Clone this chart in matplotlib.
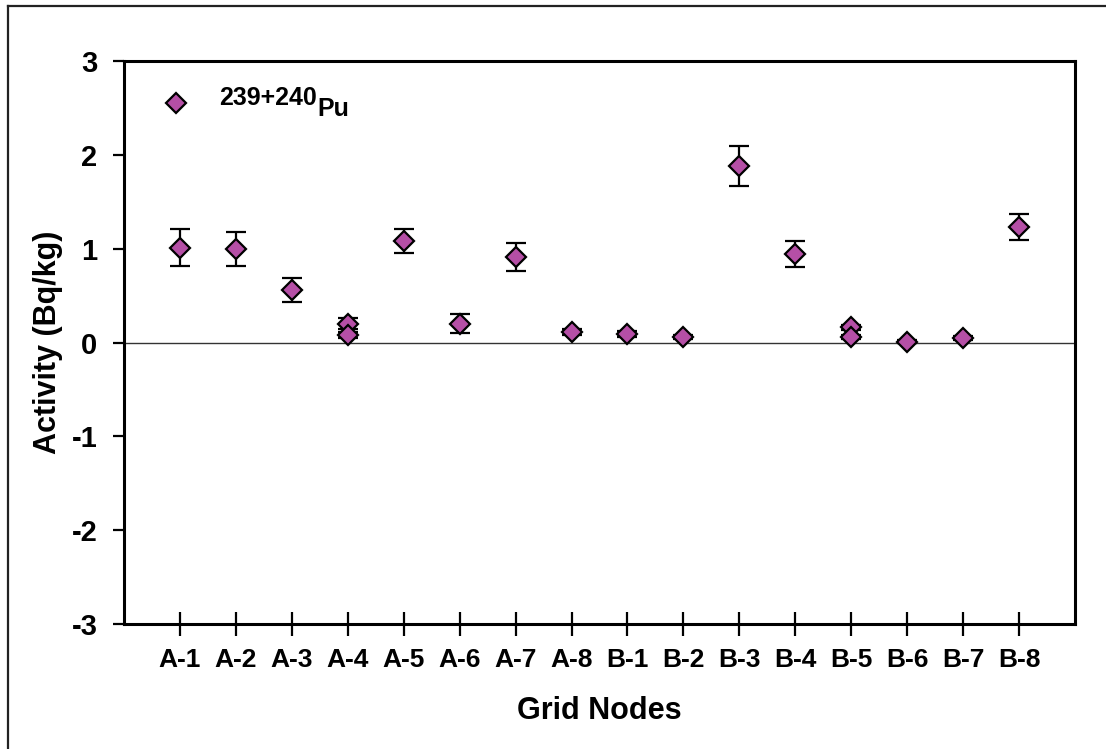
import matplotlib
matplotlib.use("Agg")
import matplotlib.pyplot as plt
from matplotlib.lines import Line2D

plt.rcParams['font.family'] = ['Liberation Sans', 'DejaVu Sans']
plt.rcParams['font.weight'] = 'bold'
plt.rcParams['axes.unicode_minus'] = False

# Grid node labels and 239+240Pu activity (Bq/kg) with 1-sigma uncertainties
nodes = ["A-1", "A-2", "A-3", "A-4", "A-5", "A-6", "A-7", "A-8",
         "B-1", "B-2", "B-3", "B-4", "B-5", "B-6", "B-7", "B-8"]
# Primary measurement at each node
activity = [1.01, 1.00, 0.56, 0.20, 1.08, 0.20, 0.91, 0.11,
            0.09, 0.06, 1.88, 0.94, 0.16, 0.01, 0.05, 1.23]
uncert = [0.20, 0.18, 0.13, 0.06, 0.13, 0.10, 0.15, 0.03,
          0.03, 0.02, 0.21, 0.14, 0.03, 0.02, 0.02, 0.14]
# Duplicate measurements taken at two nodes
dup_nodes = ["A-4", "B-5"]
dup_activity = [0.08, 0.06]
dup_uncert = [0.03, 0.02]

color = '#B54FA6'

fig = plt.figure(figsize=(11.06, 7.49), dpi=100)
ax = fig.add_axes([124 / 1106, 1 - 624 / 749, (1075 - 124) / 1106, (624 - 61) / 749])

xpos = list(range(1, len(nodes) + 1))
dup_x = [nodes.index(n) + 1 for n in dup_nodes]

ax.axhline(0, color='#333333', lw=1.0, zorder=1)

marker_kw = dict(fmt='D', ms=10, mfc=color, mec='black', mew=1.6,
                 ecolor='black', elinewidth=1.6, capsize=7, capthick=1.6, zorder=3)
ax.errorbar(xpos, activity, yerr=uncert, **marker_kw)
ax.errorbar(dup_x, dup_activity, yerr=dup_uncert, **marker_kw)

ax.set_xlim(0, 17)
ax.set_ylim(-3, 3)
ax.set_xticks(xpos)
ax.set_xticklabels(nodes)
ax.set_yticks([-3, -2, -1, 0, 1, 2, 3])

for s in ax.spines.values():
    s.set_linewidth(2.2)
ax.tick_params(axis='x', direction='inout', length=17, width=1.6, pad=9, labelsize=19)
ax.tick_params(axis='y', direction='out', length=8, width=1.6, pad=11, labelsize=21)

ax.set_xlabel("Grid Nodes", fontsize=22, fontweight='bold')
ax.set_ylabel("Activity (Bq/kg)", fontsize=22, fontweight='bold')
ax.xaxis.set_label_coords(0.5, -0.128)
ax.yaxis.set_label_coords(-0.064, 0.5)

# Legend entry drawn inside the axes
ax.plot([0.055], [0.925], transform=ax.transAxes, marker='D', ms=10, mfc=color,
        mec='black', mew=1.6, ls='none', clip_on=False)
ax.text(0.100, 0.922, "239+240", transform=ax.transAxes, fontsize=18,
        fontweight='bold', va='baseline', ha='left')
ax.text(0.2035, 0.903, "Pu", transform=ax.transAxes, fontsize=18,
        fontweight='bold', va='baseline', ha='left')

# Outer frame lines
fig.add_artist(Line2D([8 / 1106, 8 / 1106], [0, 1 - 6 / 749], transform=fig.transFigure,
                      color='#222222', lw=1.6))
fig.add_artist(Line2D([8 / 1106, 1105 / 1106], [1 - 6 / 749, 1 - 6 / 749],
                      transform=fig.transFigure, color='#222222', lw=1.6))

fig.savefig("out.png", dpi=100)
